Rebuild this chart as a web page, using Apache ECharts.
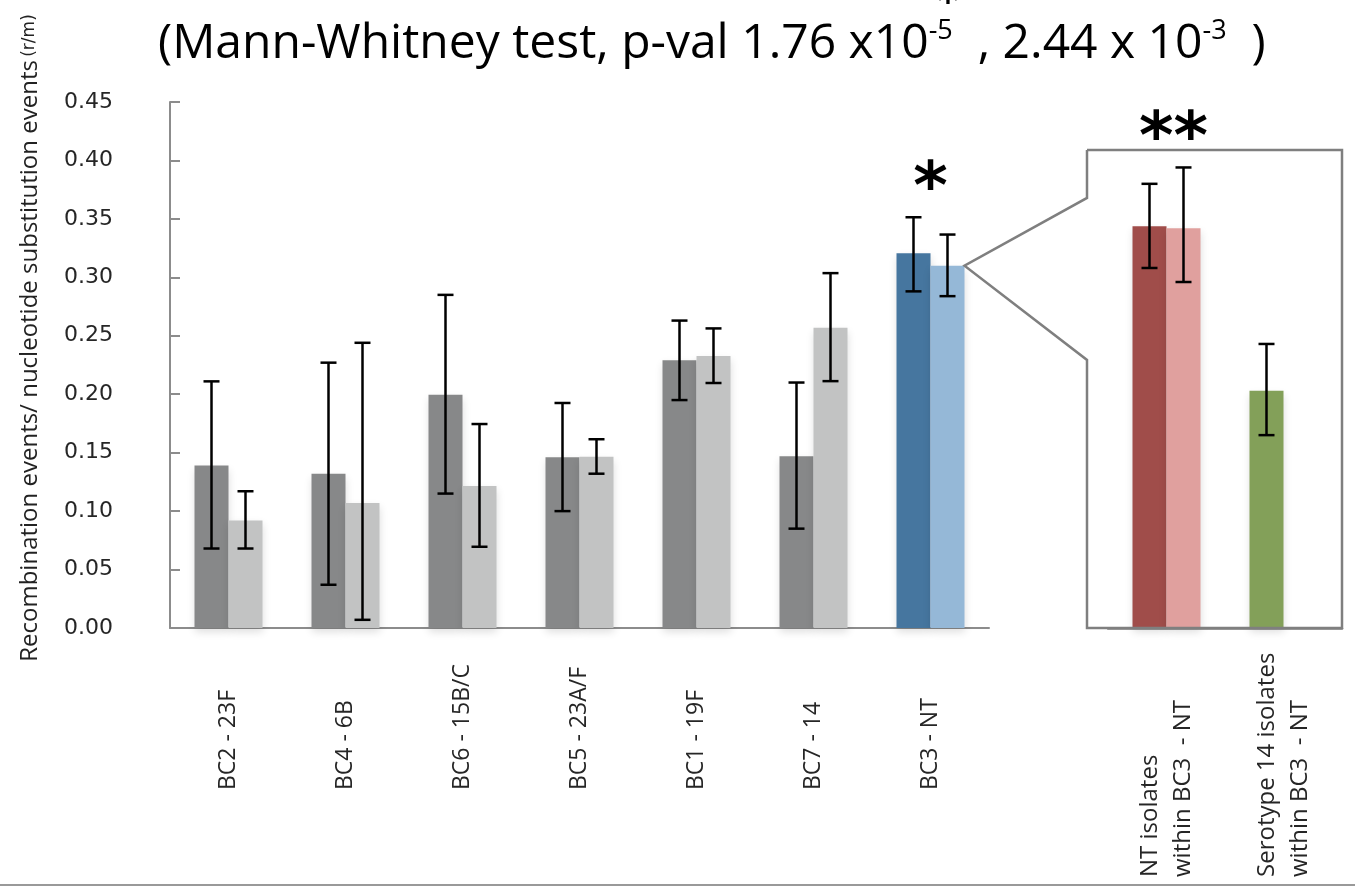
<!DOCTYPE html>
<html><head><meta charset="utf-8">
<script src="https://cdn.jsdelivr.net/npm/echarts@6/dist/echarts.min.js"></script>
<style>html,body{margin:0;padding:0;background:#fff}#c{width:1355px;height:887px}</style>
</head><body><div id="c"></div>
<script>
// ---- data ----
const categories = ['BC2 - 23F','BC4 - 6B','BC6 - 15B/C','BC5 - 23A/F','BC1 - 19F','BC7 - 14','BC3 - NT'];
const meanA = [0.139, 0.132, 0.1995, 0.146, 0.229, 0.147, 0.3205];
const lowA  = [0.068, 0.037, 0.115, 0.100, 0.195, 0.085, 0.288];
const highA = [0.211, 0.227, 0.285, 0.1925, 0.263, 0.210, 0.3514];
const meanB = [0.092, 0.107, 0.1215, 0.1464, 0.2328, 0.2569, 0.3099];
const lowB  = [0.068, 0.007, 0.0695, 0.132, 0.2096, 0.2112, 0.2839];
const highB = [0.117, 0.244, 0.1745, 0.1615, 0.2563, 0.3036, 0.3366];

const subCategories = ['NT isolates\nwithin BC3  - NT', 'Serotype 14 isolates\nwithin BC3  - NT'];
const subMeanA = [0.3437, 0.203];
const subLowA  = [0.308, 0.165];
const subHighA = [0.380, 0.243];
const subMeanB = [0.342, null];
const subLowB  = [0.296, null];
const subHighB = [0.394, null];

const yTicks = [0, 0.45, 0.05]; // min, max, interval

// ---- styles ----
const BAR_W = 34;
const GREY_D = '#878889', GREY_L = '#c2c3c3';
const BLUE_D = '#46769f', BLUE_L = '#95b8d7';
const RED_D = '#a04d4a', RED_L = '#e0a09e', GREEN = '#83a059';
const AX = '#8c8c8c';
const shadow = {shadowColor:'rgba(0,0,0,0.13)', shadowBlur:8, shadowOffsetY:4};

function errItem(off){
  return function(params, api){
    const top = api.coord([api.value(0), api.value(2)]);
    const bot = api.coord([api.value(0), api.value(1)]);
    const cx = top[0] + off, cap = 8;
    const st = {stroke:'#000', lineWidth:2.5};
    return {type:'group', children:[
      {type:'line', shape:{x1:cx,y1:top[1],x2:cx,y2:bot[1]}, style:st},
      {type:'line', shape:{x1:cx-cap,y1:top[1],x2:cx+cap,y2:top[1]}, style:st},
      {type:'line', shape:{x1:cx-cap,y1:bot[1],x2:cx+cap,y2:bot[1]}, style:st}
    ]};
  };
}
function errData(lo, hi){
  const out = [];
  lo.forEach((l,i)=>{ if(l!=null) out.push([i, l, hi[i]]); });
  return out;
}

const chart = echarts.init(document.getElementById('c'), null, {renderer:'canvas'});
const yBase = {type:'value', min:yTicks[0], max:yTicks[1], interval:yTicks[2], splitLine:{show:false}};

chart.setOption({
  backgroundColor:'#fff',
  animation:false,
  grid:[
    {left:170, right:366, top:102, bottom:259},
    {left:1108, right:13, top:102, bottom:259}
  ],
  xAxis:[
    {type:'category', gridIndex:0, data:categories,
     axisLine:{lineStyle:{color:AX, width:2}},
     axisTick:{length:10, lineStyle:{color:AX, width:1.5}},
     axisLabel:{rotate:90, align:'left', margin:162, interval:0, fontFamily:'Open Sans', fontSize:23, color:'#262626'}},
    {type:'category', gridIndex:1, data:subCategories,
     axisLine:{lineStyle:{color:'#7f7f7f', width:2.5}},
     axisTick:{length:10, lineStyle:{color:AX, width:1.5}},
     axisLabel:{rotate:90, align:'left', margin:249, interval:0, fontFamily:'Open Sans', fontSize:24, lineHeight:33, color:'#262626'}}
  ],
  yAxis:[
    Object.assign({}, yBase, {gridIndex:0,
      axisLine:{show:true, lineStyle:{color:AX, width:2}},
      axisTick:{show:true, inside:true, length:10, lineStyle:{color:AX, width:2}},
      axisLabel:{margin:57, formatter:v=>v.toFixed(2), fontFamily:'DejaVu Sans', fontSize:22, color:'#262626'}}),
    Object.assign({}, yBase, {gridIndex:1, show:false})
  ],
  series:[
    {type:'bar', xAxisIndex:0, yAxisIndex:0, data:meanA, barWidth:BAR_W, barGap:'0%',
     itemStyle:Object.assign({color:p=>p.dataIndex===6?BLUE_D:GREY_D}, shadow)},
    {type:'bar', xAxisIndex:0, yAxisIndex:0, data:meanB, barWidth:BAR_W, barGap:'0%',
     itemStyle:Object.assign({color:p=>p.dataIndex===6?BLUE_L:GREY_L}, shadow)},
    {type:'custom', xAxisIndex:0, yAxisIndex:0, z:10, renderItem:errItem(-BAR_W/2), encode:{x:0,y:[1,2]}, data:errData(lowA, highA)},
    {type:'custom', xAxisIndex:0, yAxisIndex:0, z:10, renderItem:errItem(BAR_W/2), encode:{x:0,y:[1,2]}, data:errData(lowB, highB)},
    {type:'bar', xAxisIndex:1, yAxisIndex:1, data:subMeanA, barWidth:BAR_W, barGap:'0%',
     itemStyle:Object.assign({color:p=>p.dataIndex===0?RED_D:GREEN}, shadow)},
    {type:'bar', xAxisIndex:1, yAxisIndex:1, data:subMeanB.map(v=>v==null?'-':v), barWidth:BAR_W, barGap:'0%',
     itemStyle:Object.assign({color:RED_L}, shadow)},
    {type:'custom', xAxisIndex:1, yAxisIndex:1, z:10, renderItem:errItem(-BAR_W/2), encode:{x:0,y:[1,2]}, data:errData(subLowA, subHighA)},
    {type:'custom', xAxisIndex:1, yAxisIndex:1, z:10, renderItem:errItem(BAR_W/2), encode:{x:0,y:[1,2]}, data:errData(subLowB, subHighB)}
  ]
});

// decorations positioned from the scales
const tip = chart.convertToPixel({gridIndex:0}, [6, meanB[6]]);
const tipX = tip[0] + BAR_W, tipY = tip[1];
const boxTop = chart.convertToPixel({gridIndex:1}, [0, 0.409])[1];
const boxBot = chart.convertToPixel({gridIndex:1}, [0, 0])[1];
const boxL = 1087, boxR = 1342;
const starA = chart.convertToPixel({gridIndex:0}, [6, highA[6]]);
const starB = chart.convertToPixel({gridIndex:1}, [0, subHighB[0]]);

chart.setOption({
  graphic:[
    {type:'text', z:20, x:158, y:44,
     style:{text:'{m|(Mann-Whitney test, p-val 1.76 x10}{s|-5}{m|  , 2.44 x 10}{s|-3}{m|  )}',
       align:'left', verticalAlign:'middle',
       rich:{
         m:{fontFamily:'Open Sans', fontWeight:'normal', fontSize:48, fill:'#000', lineHeight:52},
         s:{fontFamily:'Open Sans', fontWeight:'normal', fontSize:27, fill:'#000', verticalAlign:'top', lineHeight:27}
       }}},
    {type:'polyline', silent:true, z:5,
     shape:{points:[[boxL,boxTop],[boxL,boxTop+48],[tipX,tipY],[boxL,boxTop+210],[boxL,boxBot],[boxR,boxBot],[boxR,boxTop],[boxL,boxTop]]},
     style:{stroke:'#7f7f7f', lineWidth:2.5, fill:null}},
    {type:'text', z:20, x:30, y:338, rotation:Math.PI/2,
     style:{text:'{a|Recombination events/ nucleotide substitution events} {b|(r/m)}',
       align:'center', verticalAlign:'middle',
       rich:{a:{fontFamily:'Open Sans', fontSize:24, fill:'#222'}, b:{fontFamily:'DejaVu Sans', fontSize:17, fill:'#222'}}}},
    {type:'text', z:20, x:starA[0], y:starA[1]-26,
     style:{text:'*', font:'bold 66px "DejaVu Sans"', align:'center', verticalAlign:'middle', fill:'#000'}},
    {type:'text', z:20, x:starB[0]+7, y:starB[1]-27,
     style:{text:'**', font:'bold 66px "DejaVu Sans"', align:'center', verticalAlign:'middle', fill:'#000'}},
    {type:'text', z:20, x:948, y:5,
     style:{text:'*', font:'bold 40px "DejaVu Sans"', align:'center', verticalAlign:'middle', fill:'#000'}},
    {type:'line', z:20, shape:{x1:0,y1:885,x2:1355,y2:885}, style:{stroke:'#999', lineWidth:2}}
  ]
});
</script></body></html>
